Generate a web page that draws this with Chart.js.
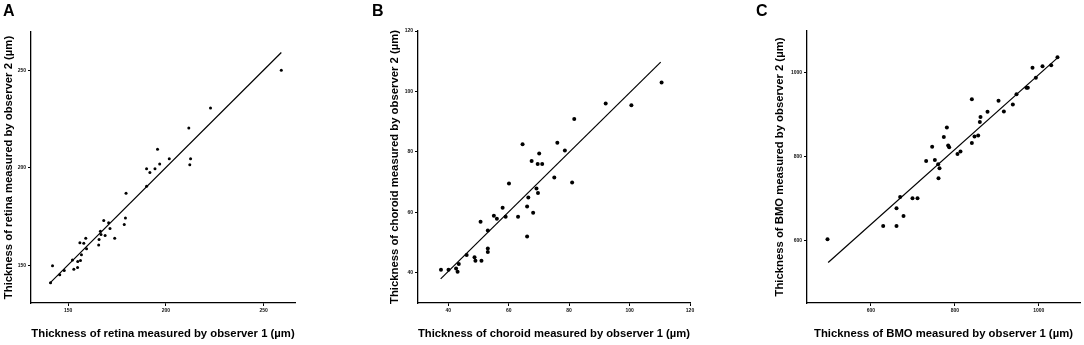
<!DOCTYPE html>
<html>
<head>
<meta charset="utf-8">
<script src="https://cdn.jsdelivr.net/npm/chart.js@4.4.1/dist/chart.umd.min.js"></script>
<style>
  html, body { margin: 0; padding: 0; background: #fff; }
  #wrap { position: relative; width: 1084px; height: 345px; overflow: hidden; }
  .panel { position: absolute; top: 0; }
  .tag { position: absolute; top: 3px; font: bold 16px 'Liberation Sans', Arial, sans-serif; line-height: 16px; color: #000; }
</style>
</head>
<body>
<div id="wrap">
  <div class="panel" style="left:0px"><canvas id="chartA" width="320" height="345"></canvas></div>
  <div class="panel" style="left:360px"><canvas id="chartB" width="360" height="345"></canvas></div>
  <div class="panel" style="left:740px"><canvas id="chartC" width="344" height="345"></canvas></div>
  <div class="tag" style="left:3px">A</div>
  <div class="tag" style="left:372px">B</div>
  <div class="tag" style="left:756px">C</div>
</div>
<script>
/* global Chart */

// Panel A - retina
const RETINA_OBS1 = [141, 142, 145.7, 148, 152.2, 152.9, 154.9, 154.8, 156.3, 156.8, 156, 158, 159, 159.4,
    165.6, 165.8, 166.5, 166.8, 168.9, 168.2, 170.7, 171.4, 173.8, 178.7, 179.3, 179.6, 190.1, 190.1,
    191.8, 194.4, 195.7, 196.8, 201.7, 211.7, 212.2, 212.6, 222.8, 259];
const RETINA_OBS2 = [141.3, 150, 145.4, 147.6, 153, 148.3, 152.2, 149.1, 152.7, 155.6, 161.8, 161.6, 164.1, 158.7,
    160.6, 163.5, 167.7, 166, 165.5, 173.2, 172, 169.1, 164.1, 171.1, 174.5, 187.1, 190.7, 199.6,
    197.7, 199.6, 209.6, 202.1, 204.7, 220.5, 201.6, 204.7, 230.6, 250];
const RETINA_LINE_X = [140.5, 259];
const RETINA_LINE_Y = [141, 259];
const RETINA_TICKS = [150, 200, 250];

// Panel B - choroid
const CHOROID_OBS1 = [37.6, 40.1, 42.6, 43.1, 43.5, 46.1, 48.7, 49, 51, 50.7, 53.1, 53.1, 53.1, 55.1, 56.1,
    58, 59, 60.1, 63.1, 64.6, 66.1, 66.1, 66.5, 67.6, 68.1, 69.2, 69.7, 69.6, 71.1, 70.1, 75.1, 76.1,
    78.6, 81, 81.7, 92.1, 100.6, 110.6];
const CHOROID_OBS2 = [41, 41, 41.4, 40.3, 42.9, 45.9, 45.1, 44, 44, 56.9, 54, 48, 46.9, 58.9, 57.9,
    61.5, 58.5, 69.5, 58.5, 82.5, 61.9, 52, 64.9, 77, 59.9, 67.9, 66.4, 76, 76, 79.5, 71.5, 83,
    80.5, 69.9, 90.9, 96, 95.4, 103];
const CHOROID_LINE_X = [37.5, 110.3];
const CHOROID_LINE_Y = [38, 109.7];
const CHOROID_TICKS = [40, 60, 80, 100, 120];

// Panel C - BMO
const BMO_OBS1 = [496.8, 629.4, 661.1, 661.1, 669.8, 677.8, 699.2, 711.1, 731.7, 746, 752.4, 760.3, 761.1,
    763.5, 773.8, 781, 784.1, 786.5, 806.3, 813.5, 840.5, 840.5, 846.8, 855.6, 859.5, 861.1, 877.8,
    904, 916.7, 938.1, 946.8, 970.6, 973.8, 984.9, 992.9, 1008.7, 1029.4, 1044.4];
const BMO_OBS2 = [602.4, 634.2, 634.2, 676.3, 703.4, 658.1, 700.2, 700.2, 789.3, 823.5, 791.7, 781.3, 747.9,
    771.8, 846.5, 869.6, 826.6, 821.9, 806, 812.3, 937.2, 832.2, 848.1, 850.5, 882.3, 894.2, 907,
    933.2, 907.8, 924.5, 949.1, 964.2, 964.2, 1011.9, 988.1, 1015.9, 1018.3, 1037.4];
const BMO_LINE_X = [498.4, 1044.4];
const BMO_LINE_Y = [546.8, 1035.8];
const BMO_TICKS = [600, 800, 1000];

const FONT = "'Liberation Sans', Arial, sans-serif";

function toPoints(xs, ys) {
    return xs.map((x, i) => ({ x, y: ys[i] }));
}

function makeScale(o) {
    return {
        type: 'linear',
        min: o.min,
        max: o.max,
        afterBuildTicks: s => { s.ticks = o.ticks.map(v => ({ value: v })); },
        afterFit: o.fit,
        grid: { display: true, drawOnChartArea: false, drawTicks: true, tickLength: 3, color: '#000', lineWidth: 1 },
        border: { display: true, color: '#000', width: 1.3 },
        ticks: {
            autoSkip: false, maxRotation: 0, padding: 2, color: '#111',
            font: { family: FONT, size: 5, weight: 'bold' },
            callback: v => String(v)
        },
        title: {
            display: true, text: o.title, color: '#000', padding: o.titlePad,
            font: { family: FONT, size: 11.3, weight: 'bold' }
        }
    };
}

function makeChart(id, p) {
    new Chart(document.getElementById(id), {
        type: 'scatter',
        data: {
            datasets: [
                {
                    data: toPoints(p.x, p.y),
                    pointRadius: p.r, pointBackgroundColor: '#000', pointBorderWidth: 0
                },
                {
                    type: 'line',
                    data: toPoints(p.lineX, p.lineY),
                    borderColor: '#000', borderWidth: 1.2, pointRadius: 0, fill: false
                }
            ]
        },
        options: {
            responsive: false,
            animation: false,
            events: [],
            layout: { padding: p.pad },
            plugins: { legend: { display: false }, tooltip: { enabled: false } },
            scales: {
                x: makeScale({
                    min: p.xMin, max: p.xMax, ticks: p.xTicks, title: p.xTitle,
                    titlePad: { top: 0, bottom: 4 }, fit: s => { s.height = 42; }
                }),
                y: makeScale({
                    min: p.yMin, max: p.yMax, ticks: p.yTicks, title: p.yTitle,
                    titlePad: { top: 1, bottom: 0 }, fit: s => { s.width = p.yWidth; }
                })
            }
        }
    });
}

makeChart('chartA', {
    x: RETINA_OBS1, y: RETINA_OBS2, lineX: RETINA_LINE_X, lineY: RETINA_LINE_Y, r: 1.5,
    xMin: 131, xMax: 266, yMin: 131, yMax: 269.5, xTicks: RETINA_TICKS, yTicks: RETINA_TICKS,
    xTitle: 'Thickness of retina measured by observer 1 (µm)',
    yTitle: 'Thickness of retina measured by observer 2 (µm)',
    pad: { left: 0.7, right: 25, top: 32, bottom: 0 }, yWidth: 30.3
});

makeChart('chartB', {
    x: CHOROID_OBS1, y: CHOROID_OBS2, lineX: CHOROID_LINE_X, lineY: CHOROID_LINE_Y, r: 2,
    xMin: 30, xMax: 120, yMin: 30, yMax: 120, xTicks: CHOROID_TICKS, yTicks: CHOROID_TICKS,
    xTitle: 'Thickness of choroid measured by observer 1 (µm)',
    yTitle: 'Thickness of choroid measured by observer 2 (µm)',
    pad: { left: 27.2, right: 30, top: 31, bottom: 0 }, yWidth: 30.8
});

makeChart('chartC', {
    x: BMO_OBS1, y: BMO_OBS2, lineX: BMO_LINE_X, lineY: BMO_LINE_Y, r: 2,
    xMin: 448, xMax: 1098, yMin: 450, yMax: 1100, xTicks: BMO_TICKS, yTicks: BMO_TICKS,
    xTitle: 'Thickness of BMO measured by observer 1 (µm)',
    yTitle: 'Thickness of BMO measured by observer 2 (µm)',
    pad: { left: 32.2, right: 4, top: 31, bottom: 0 }, yWidth: 34.8
});
</script>
</body>
</html>
